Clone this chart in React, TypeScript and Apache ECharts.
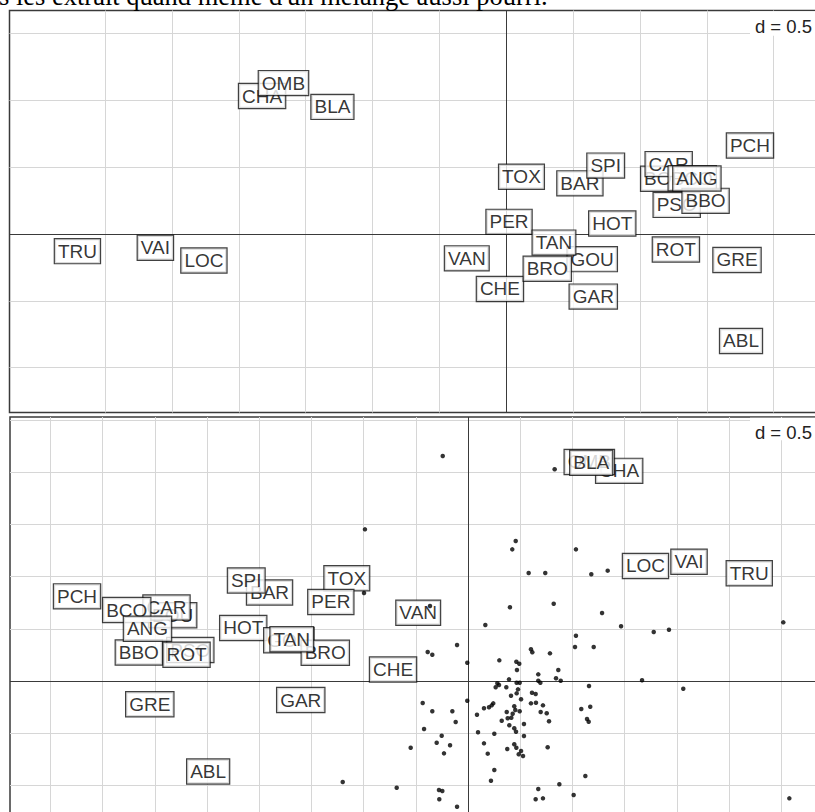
import React, { useEffect, useRef } from "react";
import * as echarts from "echarts";

const species = ["CHA","TRU","VAI","LOC","OMB","BLA","HOT","TOX","VAN","CHE","BAR","SPI","GOU","BRO","PER","BOU","PSO","ROT","CAR","TAN","BCO","PCH","GRE","GAR","BBO","ABL","ANG"];

// top panel: species scores (axis 1, axis 2)
const topX = [-1.826,-3.207,-2.624,-2.261,-1.666,-1.300,0.793,0.114,-0.295,-0.047,0.551,0.744,0.643,0.307,0.021,1.185,1.275,1.269,1.215,0.357,1.391,1.823,1.726,0.651,1.491,1.756,1.426];
const topY = [1.032,-0.128,-0.103,-0.198,1.129,0.951,0.079,0.428,-0.182,-0.411,0.379,0.512,-0.188,-0.260,0.091,0.413,0.218,-0.116,0.523,-0.064,0.417,0.662,-0.194,-0.468,0.248,-0.800,0.415];

// bottom panel: species scores
const botX = [1.448,2.694,2.117,1.700,1.162,1.180,-2.153,-1.161,-0.477,-0.718,-1.901,-2.124,-1.716,-1.367,-1.314,-2.829,-2.660,-2.696,-2.888,-1.688,-3.269,-3.745,-3.048,-1.602,-3.153,-2.489,-3.070];
const botY = [2.013,1.032,1.142,1.102,2.098,2.091,0.508,0.985,0.654,0.110,0.848,0.963,0.390,0.270,0.757,0.630,0.297,0.251,0.704,0.400,0.680,0.811,-0.222,-0.182,0.273,-0.867,0.501];

// bottom panel: site points
const siteX = [-0.242,0.830,0.457,0.424,1.034,0.581,0.740,1.181,1.338,0.821,0.402,1.284,0.166,1.466,1.779,1.925,3.020,-0.105,1.034,-0.386,-0.342,-0.364,-0.007,1.667,2.062,-0.007,-0.434,-0.342,-0.150,-0.118,-0.421,-0.252,-0.300,-0.172,-0.549,-0.230,0.252,1.124,0.220,0.875,0.673,-0.278,-0.246,1.012,-0.275,0.648,0.718,3.078,-0.105,-0.987,-0.996,-1.200,-0.683,
0.603,0.616,0.785,1.025,1.204,0.300,0.463,0.491,0.469,0.865,0.673,0.393,0.673,0.693,0.843,0.888,0.281,0.297,0.265,0.367,0.466,0.495,0.479,0.466,0.412,0.613,0.648,0.508,1.159,0.603,0.651,0.718,1.085,1.171,0.242,0.227,0.201,0.153,0.443,0.453,0.371,0.428,0.495,0.696,0.754,0.086,0.415,0.380,0.323,0.776,1.140,1.156,0.396,0.536,0.443,0.460,0.096,0.252,0.536,0.153,0.443,0.463,0.376,0.763,0.189,0.508,0.486,0.527];
const siteY = [2.155,2.028,1.341,1.261,1.261,1.034,1.034,1.022,1.057,0.740,0.706,0.651,0.536,0.524,0.469,0.491,0.562,0.345,0.434,0.278,0.252,0.718,0.175,0.007,-0.074,-0.189,-0.211,-0.290,-0.290,-0.393,-0.460,-0.524,-0.591,-0.616,-0.639,-0.693,-0.852,-0.910,-0.955,-0.989,-1.034,-1.044,-1.054,-1.092,-1.133,-1.133,-1.124,-1.124,-1.204,1.453,0.843,-0.967,-1.022,
0.304,0.275,0.265,0.326,0.326,0.198,0.185,0.166,0.105,0.105,0.064,0.016,0.003,-0.016,0.026,0.003,-0.022,-0.038,-0.060,-0.060,-0.016,-0.016,-0.080,-0.118,-0.141,-0.112,-0.125,-0.175,-0.048,-0.214,-0.208,-0.233,-0.268,-0.246,-0.214,-0.233,-0.252,-0.261,-0.242,-0.278,-0.297,-0.313,-0.290,-0.297,-0.309,-0.323,-0.352,-0.357,-0.380,-0.386,-0.364,-0.390,-0.424,-0.412,-0.453,-0.486,-0.491,-0.505,-0.527,-0.597,-0.606,-0.639,-0.651,-0.635,-0.696,-0.670,-0.702,-0.718];

// grid lines (d = 0.5)
const topGridX = [-3, -2.5, -2, -1.5, -1, -0.5, 0.5, 1, 1.5, 2, 2.5];
const topGridY = [-1, -0.5, 0.5, 1, 1.5];
const botGridX = [-4, -3.5, -3, -2.5, -2, -1.5, -1, -0.5, 0.5, 1, 1.5, 2, 2.5, 3, 3.5];
const botGridY = [-1.5, -1, -0.5, 0.5, 1, 1.5, 2, 2.5];

const dLabel = "d = 0.5";
const title = "s les extrait quand même d'un mélange aussi pourri.";

const labelFont = "'Liberation Sans', Arial, Helvetica, sans-serif";

function gridLineSeries(idx: number, xs: number[], ys: number[]) {
  return {
    type: "scatter",
    xAxisIndex: idx,
    yAxisIndex: idx,
    data: [],
    silent: true,
    z: 1,
    markLine: {
      z: 1,
      silent: true,
      symbol: ["none", "none"],
      label: { show: false },
      emphasis: { disabled: true },
      lineStyle: { type: "solid", color: "#d6d6d6", width: 1 },
      data: [...xs.map((v) => ({ xAxis: v })), ...ys.map((v) => ({ yAxis: v }))],
    },
  };
}

function axisSeries(idx: number) {
  return {
    type: "scatter",
    xAxisIndex: idx,
    yAxisIndex: idx,
    data: [],
    silent: true,
    z: 2,
    markLine: {
      z: 2,
      silent: true,
      symbol: ["none", "none"],
      label: { show: false },
      emphasis: { disabled: true },
      lineStyle: { type: "solid", color: "#3a3a3a", width: 1 },
      data: [{ xAxis: 0 }, { yAxis: 0 }],
    },
  };
}

function labelSeries(idx: number, xs: number[], ys: number[]) {
  return {
    type: "scatter",
    xAxisIndex: idx,
    yAxisIndex: idx,
    silent: true,
    z: 3,
    symbolSize: 1,
    itemStyle: { color: "rgba(0,0,0,0)" },
    data: species.map((s, i) => ({ name: s, value: [xs[i], ys[i]] })),
    label: {
      show: true,
      position: "inside",
      formatter: (p: any) => p.name,
      fontFamily: labelFont,
      fontSize: 19,
      lineHeight: 19,
      color: "#000",
      backgroundColor: "#fff",
      borderColor: "#111",
      borderWidth: 1.2,
      padding: [3, 3, 2, 3],
    },
    labelLayout: { hideOverlap: false },
  };
}

export default function App() {
  const ref = useRef<HTMLDivElement>(null);
  useEffect(() => {
    if (!ref.current) return;
    const chart = echarts.init(ref.current, undefined, { renderer: "svg" });
    const option: any = {
      animation: false,
      backgroundColor: "#fff",
      grid: [
        { left: 9.5, top: 10.5, width: 831, height: 402, show: true, borderColor: "#3a3a3a", borderWidth: 1.5, backgroundColor: "#fff", containLabel: false, outerBoundsMode: "none" },
        { left: 10, top: 417, width: 823.4, height: 420.6, show: true, borderColor: "#3a3a3a", borderWidth: 1.5, backgroundColor: "#fff", containLabel: false, outerBoundsMode: "none" },
      ],
      xAxis: [
        { type: "value", gridIndex: 0, min: -3.715, max: 2.5, show: false },
        { type: "value", gridIndex: 1, min: -4.387, max: 3.5, show: false },
      ],
      yAxis: [
        { type: "value", gridIndex: 0, min: -1.335, max: 1.672, show: false },
        { type: "value", gridIndex: 1, min: -1.5, max: 2.529, show: false },
      ],
      series: [
        gridLineSeries(0, topGridX, topGridY),
        gridLineSeries(1, botGridX, botGridY),
        axisSeries(0),
        axisSeries(1),
        labelSeries(0, topX, topY),
        labelSeries(1, botX, botY),
        {
          type: "scatter",
          xAxisIndex: 1,
          yAxisIndex: 1,
          silent: true,
          z: 4,
          symbol: "circle",
          symbolSize: 4.5,
          itemStyle: { color: "#000" },
          data: siteX.map((x, i) => [x, siteY[i]]),
        },
      ],
      graphic: [
        { type: "rect", z: 10, shape: { x: 750, y: 11.3, width: 90, height: 24.5 }, style: { fill: "#fff" } },
        { type: "text", z: 11, x: 812, y: 26, style: { text: dLabel, fontFamily: labelFont, fontSize: 18.5, fill: "#222", align: "right", verticalAlign: "middle" } },
        { type: "rect", z: 10, shape: { x: 750, y: 417.8, width: 90, height: 22.5 }, style: { fill: "#fff" } },
        { type: "text", z: 11, x: 812, y: 432, style: { text: dLabel, fontFamily: labelFont, fontSize: 18.5, fill: "#222", align: "right", verticalAlign: "middle" } },
      ],
    };
    chart.setOption(option);
    return () => chart.dispose();
  }, []);
  return (
    <div style={{ position: "fixed", left: 0, top: 0, width: 815, height: 812, overflow: "hidden", background: "#fff" }}>
      <div ref={ref} style={{ position: "absolute", left: 0, top: 0, width: 845, height: 845 }} />
      <div style={{ position: "absolute", left: -1, top: -18, fontFamily: "'Liberation Serif', 'Times New Roman', serif", fontSize: 26.5, lineHeight: "28px", whiteSpace: "nowrap", color: "#000", zIndex: 2 }}>{title}</div>
    </div>
  );
}
